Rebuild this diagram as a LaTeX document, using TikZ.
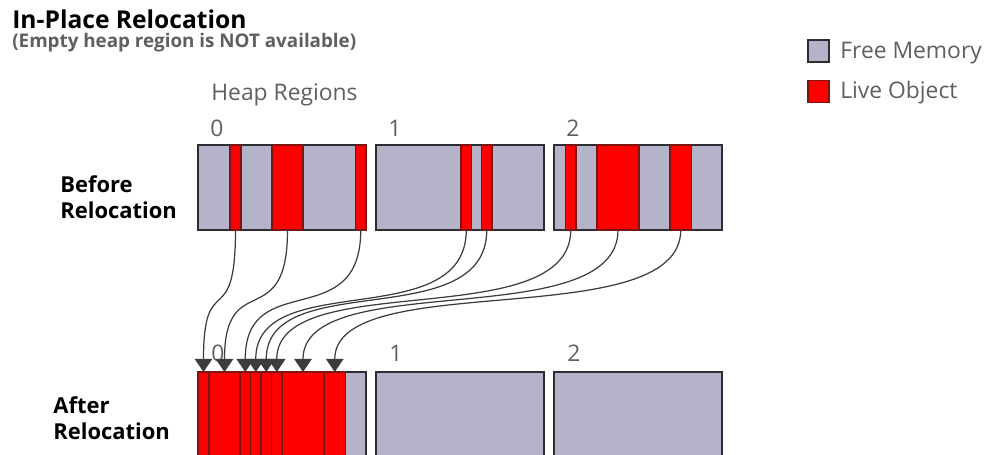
\documentclass[tikz,border=0pt]{standalone}
\usepackage{fontspec}
\setmainfont{Open Sans}
\usepackage{tikz}
\usetikzlibrary{arrows.meta}

\definecolor{freemem}{RGB}{181,179,201}
\definecolor{liveobj}{RGB}{255,0,0}
\definecolor{liveedge}{RGB}{125,20,20}
\definecolor{boxedge}{RGB}{45,45,50}
\definecolor{arrowgray}{RGB}{60,60,60}
\definecolor{labelgray}{RGB}{95,95,95}

\tikzset{
    region/.style={draw=boxedge, fill=freemem, line width=0.9pt, inner sep=0pt, outer sep=0pt,
                   minimum width=3.36cm, minimum height=1.7cm},
    live/.style={draw=liveedge, fill=liveobj, line width=0.7pt, inner sep=0pt, outer sep=0pt,
                 minimum height=1.7cm},
    move/.style={draw=arrowgray, line width=0.7pt, -{Triangle[width=10pt,length=7.5pt]}},
    graytext/.style={text=labelgray, font=\fontsize{13}{15}\selectfont},
    rowlabel/.style={align=left, inner sep=0pt, font=\bfseries\fontsize{12.5}{14.7}\selectfont},
}

\begin{document}
\begin{tikzpicture}[x=0.02cm, y=-0.02cm]
    % Canvas
    \useasboundingbox (0,0) rectangle (1000,454);
    \clip (0,0) rectangle (1000,454);

    % Title
    \node[anchor=west, inner sep=0pt, font=\bfseries\fontsize{14}{17}\selectfont] (title) at (12,19) {In-Place Relocation};
    \node[anchor=west, inner sep=0pt, text=labelgray, font=\bfseries\fontsize{10.7}{13}\selectfont] (subtitle) at (12,43) {(Empty heap region is NOT available)};

    % Legend
    \node[region, minimum width=0.42cm, minimum height=0.44cm] (freekey) at (818.5,51) {};
    \node[graytext, anchor=west, inner sep=0pt] (freetext) at (840,53) {Free Memory};
    \node[live, minimum width=0.42cm, minimum height=0.44cm] (livekey) at (818.5,91.5) {};
    \node[graytext, anchor=west, inner sep=0pt] (livetext) at (840,93) {Live Object};

    % Row labels
    \node[graytext, anchor=west, inner sep=0pt] (heading) at (211,95) {Heap Regions};
    \node[rowlabel, anchor=west] (before) at (60,197) {Before\\Relocation};
    \node[rowlabel, anchor=west] (after) at (53,418) {After\\Relocation};

    % Heap regions
    \foreach \r/\xa in {0/198,1/376,2/554} {
        \node[region, anchor=north west] (oldreg\r) at (\xa,145) {};
        \node[graytext] (oldnum\r) at (\xa+19,128) {\r};
        \node[region, anchor=north west] (newreg\r) at (\xa,372) {};
        \node[graytext] (newnum\r) at (\xa+20,353) {\r};
    }

    % Live objects before relocation
    \foreach \n/\xa/\w in {a/230/11, b/272/31, c/355.5/10.5, d/461/10.5, e/481.5/10.5, f/565.5/10.5, g/597/42, h/670/21.5}
        \node[live, anchor=north west, minimum width=\w*0.02cm] (old\n) at (\xa,145) {};

    % Live objects after relocation (packed into region 0)
    \foreach \n/\xa/\w in {a/198/11, b/209/31, c/240/10.5, d/250.5/10.5, e/261/10.5, f/271.5/10.5, g/282/42, h/324/21.5}
        \node[live, anchor=north west, minimum width=\w*0.02cm] (new\n) at (\xa,372) {};

    % Moves
    \foreach \n in {a,b,c,d,e,f,g,h}
        \draw[move] (old\n.south) .. controls +(0,105) and +(0,-105) .. (new\n.north);
\end{tikzpicture}
\end{document}
